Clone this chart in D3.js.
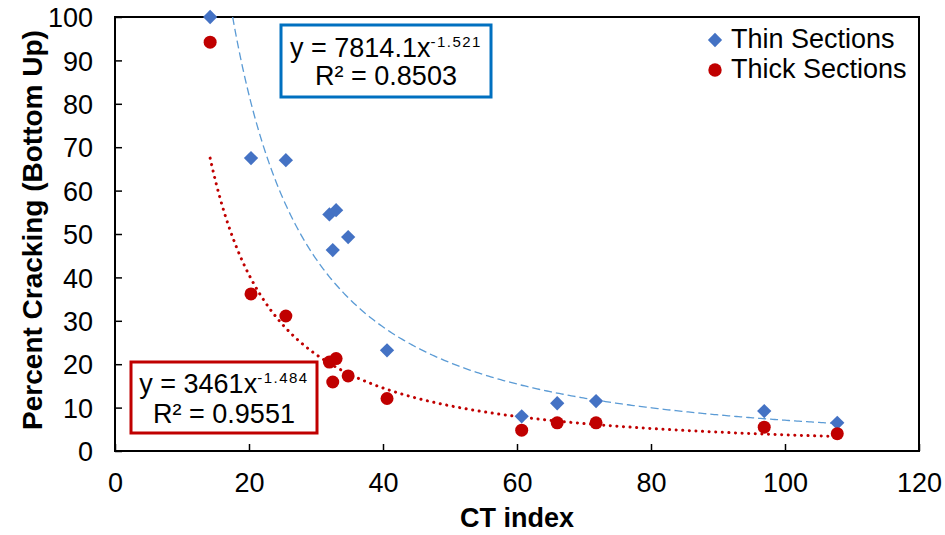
<!DOCTYPE html>
<html><head><meta charset="utf-8">
<script src="https://cdn.jsdelivr.net/npm/d3@7"></script>
<style>body{margin:0;background:#fff}text{font-family:"Liberation Sans",Arial,sans-serif}</style>
</head><body><svg id="c" width="945" height="535"></svg>
<script>
const ctIndex = [14.2, 20.3, 25.5, 32.0, 33.0, 32.5, 34.8, 40.6, 60.7, 66.0, 71.8, 96.9, 107.8];
const thinSections = [100, 67.5, 67.0, 54.5, 55.5, 46.3, 49.3, 23.2, 8.0, 11.0, 11.5, 9.2, 6.5];
const thickSections = [94.2, 36.2, 31.1, 20.5, 21.3, 15.9, 17.3, 12.1, 4.8, 6.5, 6.5, 5.5, 4.0];
const thinFit = [7814.1, -1.521];
const thickFit = [3461, -1.484];
const xTicks = [0, 20, 40, 60, 80, 100, 120];
const yTicks = [0, 10, 20, 30, 40, 50, 60, 70, 80, 90, 100];

const svg = d3.select("#c");
const L = 115, R = 919, T = 17, B = 451;
const FS = 27;
const x = d3.scaleLinear().domain([0, 120]).range([L, R]);
const y = d3.scaleLinear().domain([0, 100]).range([B, T]);

// axes
const xa = svg.append("g").attr("transform", `translate(0,${B})`)
  .call(d3.axisBottom(x).tickValues(xTicks).tickSize(-7).tickPadding(22));
const ya = svg.append("g").attr("transform", `translate(${L},0)`)
  .call(d3.axisLeft(y).tickValues(yTicks).tickSize(-7).tickPadding(22));
[xa, ya].forEach(a => {
  a.select(".domain").remove();
  a.selectAll("line").attr("stroke", "#000").attr("stroke-width", 1.5);
  a.selectAll("text").attr("font-size", FS).attr("fill", "#000").style("font-family", '"Liberation Sans",Arial,sans-serif');
});
ya.selectAll("text").attr("dy", "0.36em");
svg.append("rect").attr("x", L).attr("y", T).attr("width", R - L).attr("height", B - T)
  .attr("fill", "none").attr("stroke", "#000").attr("stroke-width", 2);

// axis titles
svg.append("text").attr("x", (L + R) / 2).attr("y", 527).attr("text-anchor", "middle")
  .attr("font-size", FS).attr("font-weight", "bold").text("CT index");
svg.append("text").attr("transform", `translate(42,230) rotate(-90)`).attr("text-anchor", "middle")
  .attr("font-size", 28).attr("font-weight", "bold").text("Percent Cracking (Bottom Up)");

// trendlines
svg.append("clipPath").attr("id", "pc").append("rect")
  .attr("x", L).attr("y", T).attr("width", R - L).attr("height", B - T);
function fitPts(f, x0, x1) {
  const pts = [];
  for (let i = 0; i <= 300; i++) { const xv = x0 + (x1 - x0) * i / 300; pts.push([xv, f[0] * Math.pow(xv, f[1])]); }
  return pts;
}
const line = d3.line().x(d => x(d[0])).y(d => y(d[1]));
const xmin = d3.min(ctIndex), xmax = d3.max(ctIndex);
const xStartThin = Math.pow(100 / thinFit[0], 1 / thinFit[1]);
svg.append("path").attr("clip-path", "url(#pc)").attr("d", line(fitPts(thinFit, xStartThin, xmax)))
  .attr("fill", "none").attr("stroke", "#5B9BD5").attr("stroke-width", 1.3).attr("stroke-dasharray", "8,4");
svg.append("path").attr("d", line(fitPts(thickFit, xmin, xmax)))
  .attr("fill", "none").attr("stroke", "#C00000").attr("stroke-width", 3).attr("stroke-linecap", "round").attr("stroke-dasharray", "0.1,6.5");

// points
const dia = d3.symbol().type(d3.symbolDiamond2).size(130);
svg.append("g").selectAll("path").data(ctIndex).join("path")
  .attr("d", dia).attr("transform", (d, i) => `translate(${x(d)},${y(thinSections[i])})`)
  .attr("fill", "#4472C4");
svg.append("g").selectAll("circle").data(ctIndex).join("circle")
  .attr("cx", d => x(d)).attr("cy", (d, i) => y(thickSections[i])).attr("r", 6.5).attr("fill", "#C00000");

// legend
svg.append("path").attr("d", d3.symbol().type(d3.symbolDiamond2).size(130)).attr("transform", "translate(715,40)").attr("fill", "#4472C4");
svg.append("text").attr("x", 731).attr("y", 48).attr("font-size", FS).text("Thin Sections");
svg.append("circle").attr("cx", 715).attr("cy", 70).attr("r", 6.7).attr("fill", "#C00000");
svg.append("text").attr("x", 731).attr("y", 78).attr("font-size", FS).text("Thick Sections");

// equation boxes
function eqBox(x0, y0, w, h, color, coef, expo, r2, b1, b2) {
  svg.append("rect").attr("x", x0).attr("y", y0).attr("width", w).attr("height", h)
    .attr("fill", "#fff").attr("stroke", color).attr("stroke-width", 3);
  const t1 = svg.append("text").attr("x", x0 + w / 2).attr("y", y0 + b1).attr("text-anchor", "middle").attr("font-size", FS);
  t1.append("tspan").text(`y = ${coef}x`);
  t1.append("tspan").attr("dy", -10).attr("font-size", 15).attr("letter-spacing", 1.5).text(expo);
  svg.append("text").attr("x", x0 + w / 2).attr("y", y0 + b2).attr("text-anchor", "middle").attr("font-size", FS)
    .text(`R² = ${r2}`);
}
eqBox(281, 25, 210, 72, "#0070C0", "7814.1", "-1.521", "0.8503", 32, 60);
eqBox(131, 362, 186, 71, "#C00000", "3461", "-1.484", "0.9551", 31, 61);
</script></body></html>
